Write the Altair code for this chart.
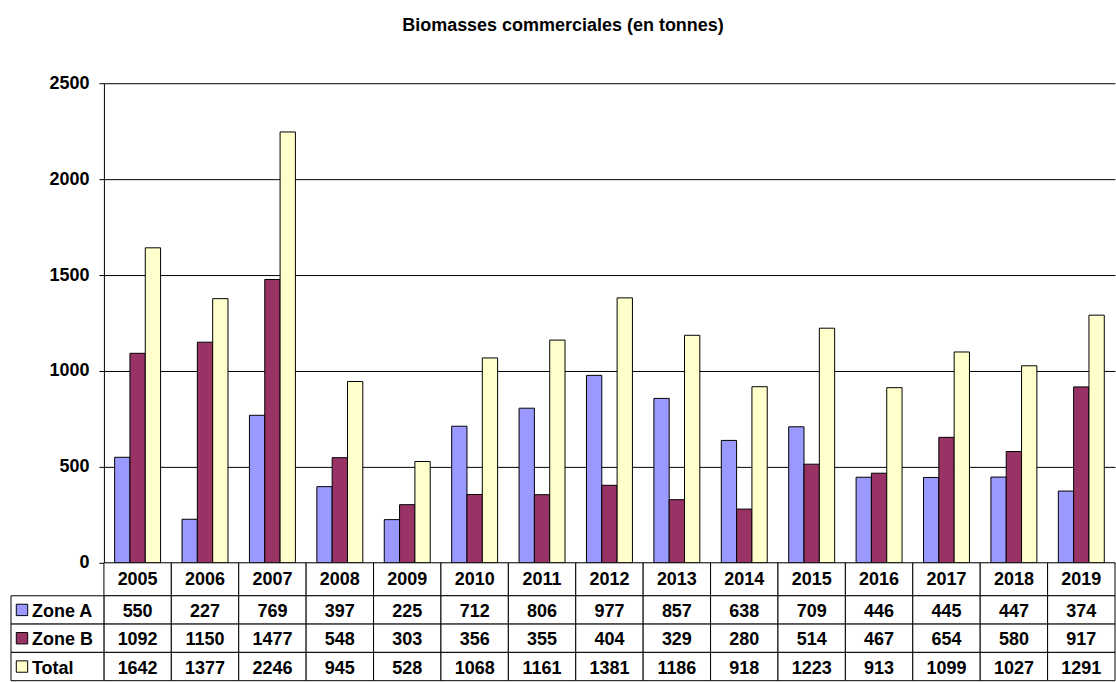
import altair as alt
import pandas as pd

years = [str(y) for y in range(2005, 2020)]
zone_a = [550, 227, 769, 397, 225, 712, 806, 977, 857, 638, 709, 446, 445, 447, 374]
zone_b = [1092, 1150, 1477, 548, 303, 356, 355, 404, 329, 280, 514, 467, 654, 580, 917]
total = [1642, 1377, 2246, 945, 528, 1068, 1161, 1381, 1186, 918, 1223, 913, 1099, 1027, 1291]
series = ["Zone A", "Zone B", "Total"]
colors = ["#9999FF", "#993366", "#FFFFCC"]
y_ticks = [0, 500, 1000, 1500, 2000, 2500]

FONT = "Liberation Sans"
FS = 18
W = 1012

rows = []
for i, yr in enumerate(years):
    for s, vals in zip(series, [zone_a, zone_b, total]):
        rows.append({"year": yr, "serie": s, "value": vals[i]})
df = pd.DataFrame(rows)

hdf = pd.DataFrame({"year": years, "row": ["hdr"] * len(years), "txt": years})
brows = []
for i, yr in enumerate(years):
    for s, vals in zip(series, [zone_a, zone_b, total]):
        brows.append({"year": yr, "row": s, "txt": str(vals[i])})
bdf = pd.DataFrame(brows)
ldf = pd.DataFrame({"row": series})

fill_scale = alt.Scale(domain=series, range=colors)

bars = alt.Chart(df).mark_bar(stroke="black", strokeWidth=1).encode(
    x=alt.X("year:N", sort=years, scale=alt.Scale(paddingInner=0, paddingOuter=0), axis=None),
    xOffset=alt.XOffset("serie:N", sort=series,
                        scale=alt.Scale(domain=series, paddingInner=0, paddingOuter=0.7)),
    y=alt.Y("value:Q", scale=alt.Scale(domain=[0, 2500], nice=False),
            axis=alt.Axis(values=y_ticks, format="d", title=None, grid=True, gridColor="#000000",
                          gridWidth=1, domainColor="#000000", tickColor="#000000",
                          tickSize=5, labelFont=FONT, labelFontSize=FS,
                          labelFontWeight="bold", labelColor="#000000", labelPadding=10)),
    fill=alt.Fill("serie:N", scale=fill_scale, legend=None),
).properties(width=W, height=480)

xcol = alt.X("year:N", sort=years, scale=alt.Scale(domain=years, paddingInner=0, paddingOuter=0), axis=None)

# header row (years)
yh = alt.Y("row:N", scale=alt.Scale(domain=["hdr"], paddingInner=0, paddingOuter=0), axis=None)
hcells = alt.Chart(hdf).mark_rect(fill="white", stroke="black", strokeWidth=1).encode(x=xcol, y=yh)
htext = alt.Chart(hdf).mark_text(font=FONT, fontSize=FS, fontWeight="bold", color="black", dy=1).encode(
    x=xcol, y=yh, text="txt:N")
header = alt.layer(hcells, htext).properties(width=W, height=33)

# body rows (values)
yb = alt.Y("row:N", scale=alt.Scale(domain=series, paddingInner=0, paddingOuter=0), axis=None)
bcells = alt.Chart(bdf).mark_rect(fill="white", stroke="black", strokeWidth=1).encode(x=xcol, y=yb)
btext = alt.Chart(bdf).mark_text(font=FONT, fontSize=FS, fontWeight="bold", color="black", dy=2).encode(
    x=xcol, y=yb, text="txt:N")
lrect = alt.Chart(ldf).mark_rect(fill="white", stroke="black", strokeWidth=1).encode(
    x=alt.value(-93), x2=alt.value(0), y=yb)
lsq = alt.Chart(ldf).mark_square(size=130, stroke="black", strokeWidth=1, opacity=1, filled=True).encode(
    x=alt.value(-82), y=yb, fill=alt.Fill("row:N", scale=fill_scale, legend=None))
ltext = alt.Chart(ldf).mark_text(font=FONT, fontSize=FS, fontWeight="bold", color="black",
                                 align="left", dy=2).encode(
    x=alt.value(-72), y=yb, text="row:N")
body = alt.layer(bcells, btext, lrect, lsq, ltext).properties(width=W, height=85)

chart = alt.vconcat(bars, header, body, spacing=0, bounds="flush").resolve_scale(
    x="independent", y="independent").properties(
    title=alt.TitleParams("Biomasses commerciales (en tonnes)", font=FONT, fontSize=18,
                          fontWeight="bold", color="black", anchor="middle", offset=39),
    padding={"left": 10, "top": 17, "right": 0, "bottom": 0},
    background="white",
).configure_view(stroke=None)

chart.save("out.html", embed_options={"renderer": "svg", "actions": False})
